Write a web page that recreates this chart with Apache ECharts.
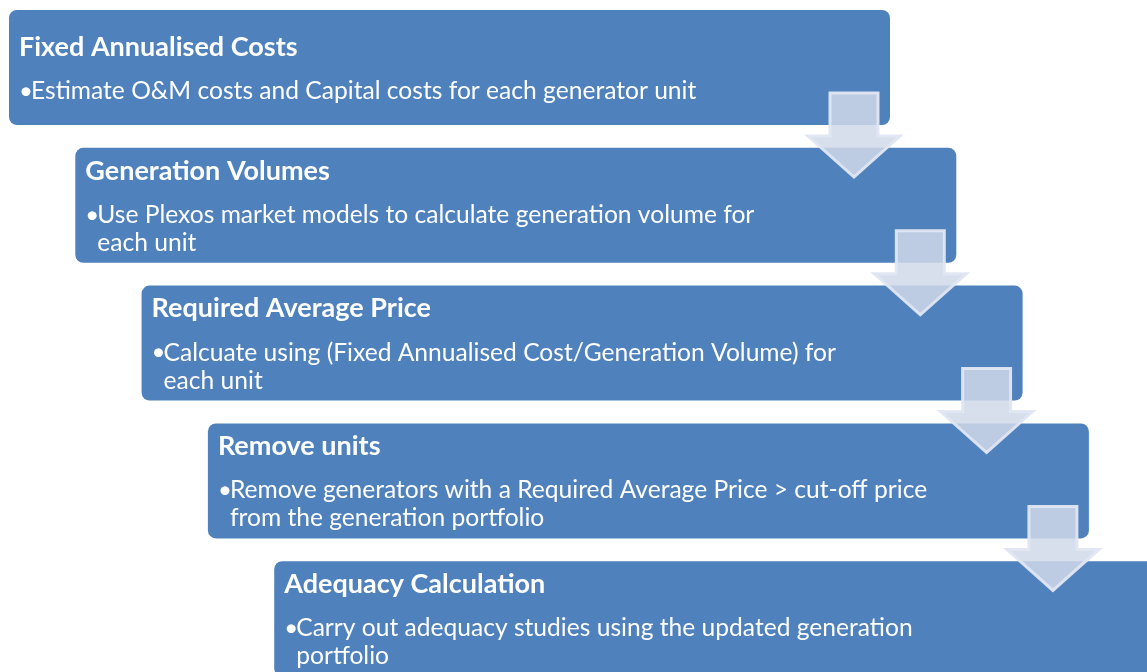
<!DOCTYPE html>
<html>
<head>
<meta charset="utf-8">
<script src="https://cdn.jsdelivr.net/npm/echarts@6/dist/echarts.min.js"></script>
<style>
  html, body { margin: 0; padding: 0; background: #fff; }
  #chart { width: 1147px; height: 672px; }
</style>
</head>
<body>
<div id="chart"></div>
<script>
// steps of the process (top to bottom)
const stepTitles = [
  'Fixed Annualised Costs',
  'Generation Volumes',
  'Required Average Price',
  'Remove units',
  'Adequacy Calculation'
];
const stepLines = [
  ['Estimate O&M costs and Capital costs for each generator unit'],
  ['Use Plexos market models to calculate generation volume for', 'each unit'],
  ['Calcuate using (Fixed Annualised Cost/Generation Volume) for', 'each unit'],
  ['Remove generators with a Required Average Price > cut-off price', 'from the generation portfolio'],
  ['Carry out adequacy studies using the updated generation', 'portfolio']
];
const stepIndex = stepTitles.map((t, i) => i);
const arrowIndex = stepIndex.slice(0, -1);

const BOX_W = 881, BOX_H = 115;
const blue = '#4f81bd';
const FONT = 'Lato, "Open Sans", sans-serif';

const chart = echarts.init(document.getElementById('chart'));

function renderBox(params, api) {
  const i = api.value(0);
  const p = api.coord([i, i]);
  const x = p[0], y = p[1];
  const lines = stepLines[i];
  // text block (title + body lines) is centred vertically in the box
  const blockH = 44 + (lines.length - 1) * 28;
  const ty = y + BOX_H / 2 - blockH / 2 + 1.5;
  const children = [
    { type: 'rect', shape: { x: x, y: y, width: BOX_W, height: BOX_H, r: 8 },
      style: { fill: blue } },
    { type: 'text', style: { text: stepTitles[i], x: x + 10, y: ty, fill: '#fff',
      font: 'bold 27px ' + FONT, verticalAlign: 'middle' } },
    { type: 'text', style: { text: '•', x: x + 10, y: ty + 44, fill: '#fff',
      font: '24px ' + FONT, verticalAlign: 'middle' } }
  ];
  lines.forEach((line, k) => {
    children.push({ type: 'text', style: { text: line, x: x + 22, y: ty + 44 + k * 28, fill: '#fff',
      font: '24.6px ' + FONT, verticalAlign: 'middle' } });
  });
  return { type: 'group', children };
}

function renderArrow(params, api) {
  const i = api.value(0);
  const p = api.coord([i, i]);
  const R = p[0] + BOX_W, B = p[1] + BOX_H;
  return {
    type: 'polygon',
    shape: { points: [
      [R - 60, B - 32], [R - 12, B - 32], [R - 12, B + 11], [R + 10, B + 11],
      [R - 36, B + 52], [R - 82, B + 11], [R - 60, B + 11]
    ] },
    style: { fill: 'rgba(208,216,233,0.86)', stroke: 'rgba(224,230,242,0.95)', lineWidth: 3 }
  };
}

const option = {
  animation: false,
  grid: { left: 9, top: 10, right: 0, bottom: 0 },
  xAxis: { type: 'value', min: 0, max: 1138 / 66.3, show: false },
  yAxis: { type: 'value', min: 0, max: 662 / 137.8, inverse: true, show: false },
  series: [
    { type: 'custom', renderItem: renderBox, data: stepIndex.map(i => [i, i]), clip: false, z: 1 },
    { type: 'custom', renderItem: renderArrow, data: arrowIndex.map(i => [i, i]), clip: false, z: 2 }
  ]
};
chart.setOption(option);
</script>
</body>
</html>
